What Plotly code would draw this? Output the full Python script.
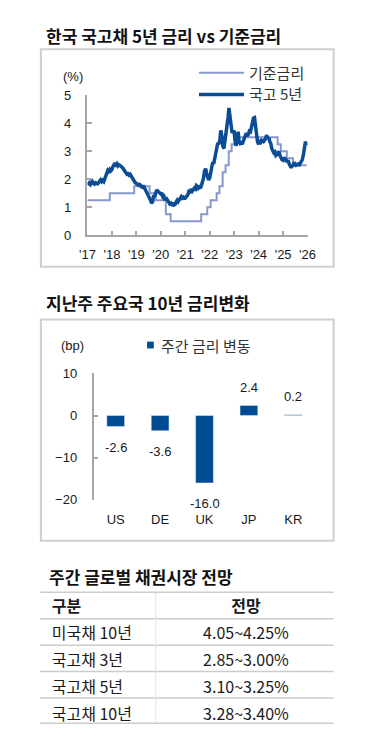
import plotly.graph_objects as go
import pandas as pd

# ---------------- Chart 1 data ----------------
rate_dates = ["2017-01-01", "2017-11-30", "2018-11-30", "2019-07-18", "2019-10-16",
              "2020-03-16", "2020-05-28", "2021-08-26", "2021-11-25", "2022-01-14",
              "2022-04-14", "2022-05-26", "2022-07-13", "2022-08-25", "2022-10-12",
              "2022-11-24", "2023-01-13", "2024-10-11", "2024-11-28", "2025-02-25",
              "2025-05-29", "2025-12-19"]
base_rate = [1.25, 1.50, 1.75, 1.50, 1.25, 0.75, 0.50, 0.75, 1.00, 1.25, 1.50, 1.75,
             2.25, 2.50, 3.00, 3.25, 3.50, 3.25, 3.00, 2.75, 2.50, 2.50]

ktb5_start = "2017-01-01"   # semi-monthly observations
ktb5 = [
    1.80, 1.86, 1.88, 1.82, 1.87, 1.92, 1.85, 1.83, 1.88, 1.86, 1.84, 1.88, 1.95, 1.98, 1.92, 1.96, 1.92, 2.00, 2.12, 2.25, 2.32, 2.28, 2.35, 2.30,
    2.35, 2.45, 2.55, 2.58, 2.52, 2.56, 2.48, 2.52, 2.50, 2.47, 2.45, 2.40, 2.33, 2.28, 2.25, 2.18, 2.20, 2.15, 2.18, 2.12, 2.05, 2.02, 1.95, 1.88,
    1.85, 1.82, 1.80, 1.82, 1.80, 1.74, 1.72, 1.78, 1.70, 1.68, 1.58, 1.50, 1.45, 1.35, 1.25, 1.15, 1.20, 1.42, 1.38, 1.50, 1.62, 1.58, 1.55, 1.50,
    1.48, 1.52, 1.38, 1.40, 1.25, 1.35, 1.30, 1.22, 1.18, 1.12, 1.15, 1.10, 1.12, 1.08, 1.10, 1.18, 1.25, 1.20, 1.28, 1.32, 1.38, 1.33, 1.36, 1.32,
    1.33, 1.38, 1.42, 1.50, 1.62, 1.58, 1.65, 1.58, 1.62, 1.68, 1.65, 1.78, 1.75, 1.68, 1.72, 1.68, 1.80, 1.92, 2.05, 2.30, 2.38, 2.22, 2.05, 1.98,
    2.05, 2.30, 2.45, 2.62, 2.55, 2.75, 2.95, 3.15, 3.30, 3.25, 3.40, 3.75, 3.55, 3.20, 3.10, 3.35, 3.60, 3.80, 4.20, 4.55, 4.25, 3.90, 3.65, 3.72,
    3.70, 3.35, 3.20, 3.45, 3.70, 3.35, 3.28, 3.30, 3.25, 3.35, 3.45, 3.55, 3.65, 3.55, 3.60, 3.72, 3.70, 3.85, 4.00, 4.18, 4.20, 3.85, 3.60, 3.35,
    3.25, 3.35, 3.32, 3.40, 3.38, 3.35, 3.40, 3.55, 3.58, 3.45, 3.50, 3.35, 3.28, 3.10, 3.00, 2.95, 2.98, 2.85, 2.88, 2.95, 3.00, 2.85, 2.72, 2.70,
    2.68, 2.78, 2.72, 2.70, 2.62, 2.68, 2.55, 2.45, 2.42, 2.48, 2.50, 2.60, 2.55, 2.50, 2.52, 2.55, 2.52, 2.60, 2.62, 2.70, 2.90, 3.25, 3.35, 3.20,
]
ktb5_dates = pd.date_range(start=ktb5_start, periods=len(ktb5), freq="SMS")

year_ticks = ["2017-01-01", "2018-01-01", "2019-01-01", "2020-01-01", "2021-01-01",
              "2022-01-01", "2023-01-01", "2024-01-01", "2025-01-01", "2026-01-01"]
year_labels = ["'17", "'18", "'19", "'20", "'21", "'22", "'23", "'24", "'25", "'26"]

# ---------------- Chart 2 data ----------------
countries = ["US", "DE", "UK", "JP", "KR"]
weekly_change = [-2.6, -3.6, -16.0, 2.4, 0.2]
bar_series_name = "주간 금리 변동"

# ---------------- Table data ----------------
table_header = ["구분", "전망"]
table_items = ["미국채 10년", "국고채 3년", "국고채 5년", "국고채 10년"]
table_outlook = ["4.05~4.25%", "2.85~3.00%", "3.10~3.25%", "3.28~3.40%"]

# page is 387x740; the html body keeps an 8px margin, so the figure is 371x724 at (8, 8)
OX, OY = 8, 8
FW, FH = 371, 724
KR = "Noto Sans CJK KR"
AR = "Liberation Sans, Arial"
AXC = "#a6a6a6"
TXT = "#1a1a1a"
BAR_C = "#004b93"


def px_x(p):
    return (p - OX) / FW


def px_y(p):
    return 1 - (p - OY) / FH


fig = go.Figure()

fig.add_trace(go.Scatter(x=rate_dates, y=base_rate, mode="lines", name="기준금리",
                         line=dict(shape="hv", color="#8799cc", width=2),
                         xaxis="x", yaxis="y", legend="legend"))
fig.add_trace(go.Scatter(x=ktb5_dates, y=ktb5, mode="lines", name="국고 5년",
                         line=dict(color="#0b4c97", width=3.5),
                         xaxis="x", yaxis="y", legend="legend3"))
fig.add_trace(go.Bar(x=countries, y=weekly_change, name=bar_series_name,
                     marker=dict(color=BAR_C), width=0.4, showlegend=False,
                     xaxis="x2", yaxis="y2"))

fig.add_trace(go.Table(
    domain=dict(x=[px_x(37), px_x(340)], y=[px_y(732), px_y(597)]),
    columnwidth=[121, 182],
    header=dict(values=table_header, align=["left", "center"],
                height=27, fill_color="rgba(0,0,0,0)", line=dict(color="rgba(0,0,0,0)", width=0),
                font=dict(family=KR, size=16, color=TXT, weight="bold")),
    cells=dict(values=[table_items, table_outlook], align=["left", "center"],
               height=27, fill_color="rgba(0,0,0,0)", line=dict(color="rgba(0,0,0,0)", width=0),
               font=dict(family=KR, size=16, color=TXT)),
))

y0_frac = (0 - (-20)) / (10 - (-20))
zero_pos = px_y(503) + y0_frac * (px_y(374) - px_y(503))
boundaries = [i - 0.5 for i in range(len(countries) + 1)]

axis_common = dict(showgrid=False, zeroline=False, showline=True, linecolor=AXC, linewidth=1.5,
                   ticks="inside", ticklen=5, tickwidth=1.5, tickcolor=AXC,
                   tickfont=dict(family=AR, size=13, color=TXT))

legend_common = dict(xanchor="left", yanchor="top", bgcolor="rgba(0,0,0,0)", itemwidth=45,
                     font=dict(family=KR, size=15, color="#333333"))

fig.update_layout(
    width=FW, height=FH, margin=dict(l=0, r=0, t=0, b=0),
    paper_bgcolor="white", plot_bgcolor="rgba(0,0,0,0)",
    xaxis=dict(domain=[px_x(82.7), px_x(312.7)], anchor="y", type="date",
               range=["2017-01-01", "2026-01-01"], tickvals=year_ticks, ticktext=year_labels,
               ticklabelstandoff=6, **axis_common),
    yaxis=dict(domain=[px_y(233), px_y(90)], anchor="x", range=[0, 5], dtick=1,
               ticklabelstandoff=12, **axis_common),
    xaxis2=dict(domain=[px_x(89), px_x(321)], anchor="y2", type="category",
                range=[-0.5, len(countries) - 0.5], showgrid=False, zeroline=False,
                showline=False, ticks="", ticklabelstandoff=10,
                tickfont=dict(family=AR, size=13, color=TXT)),
    xaxis3=dict(overlaying="x2", anchor="free", position=zero_pos,
                range=[-0.5, len(countries) - 0.5], tickvals=boundaries,
                showticklabels=False, **{k: v for k, v in axis_common.items() if k != "tickfont"}),
    yaxis2=dict(domain=[px_y(503), px_y(374)], anchor="x2", range=[-20, 10], dtick=10,
                ticklabelstandoff=12, **axis_common),
    legend=dict(x=px_x(194), y=px_y(50.5), **legend_common),
    legend3=dict(x=px_x(194), y=px_y(72.5), **legend_common),
    showlegend=True,
)

annotations = [
    dict(text="<b>한국 국고채 5년 금리 vs 기준금리</b>", x=px_x(37), y=px_y(29),
         font=dict(family=KR, size=17, color="#111111")),
    dict(text="<b>지난주 주요국 10년 금리변화</b>", x=px_x(37), y=px_y(302),
         font=dict(family=KR, size=17, color="#111111")),
    dict(text="<b>주간 글로벌 채권시장 전망</b>", x=px_x(40), y=px_y(581),
         font=dict(family=KR, size=17, color="#111111")),
    dict(text=bar_series_name, x=px_x(157), y=px_y(345),
         font=dict(family=KR, size=15, color="#333333")),
]
for a in annotations:
    a.update(xref="paper", yref="paper", xanchor="left", yanchor="middle", showarrow=False)

unit_labels = [dict(text="(%)", x=px_x(67.5), y=px_y(71)), dict(text="(bp)", x=px_x(67.5), y=px_y(345))]
for a in unit_labels:
    a.update(xref="paper", yref="paper", xanchor="center", yanchor="middle", showarrow=False,
             font=dict(family=AR, size=13, color=TXT))
annotations += unit_labels

for c, v in zip(countries, weekly_change):
    annotations.append(dict(text="%.1f" % v, x=c, y=v, xref="x2", yref="y2", showarrow=False,
                            yshift=18 if v >= 0 else -21, xanchor="center", yanchor="middle",
                            font=dict(family=AR, size=13, color=TXT)))
fig.update_layout(annotations=annotations)

shapes = []
for top, bot in [(43, 265), (319, 545)]:
    shapes.append(dict(type="rect", xref="paper", yref="paper", x0=px_x(34), x1=px_x(340),
                       y0=px_y(bot), y1=px_y(top), line=dict(color="#cfcfcf", width=2)))
# legend swatch for the bar chart
shapes.append(dict(type="rect", xref="paper", yref="paper", x0=px_x(145), x1=px_x(152),
                   y0=px_y(348.5), y1=px_y(341.5), line=dict(width=0), fillcolor=BAR_C))
for yy in [597.5, 624.5, 651.5, 678.5, 705.5, 731.2]:
    shapes.append(dict(type="line", xref="paper", yref="paper", x0=px_x(33), x1=px_x(340),
                       y0=px_y(yy), y1=px_y(yy), line=dict(color="#cccccc", width=1.5)))
shapes.append(dict(type="line", xref="paper", yref="paper", x0=px_x(154), x1=px_x(154),
                   y0=px_y(731), y1=px_y(598), line=dict(color="#e3e3e3", width=1)))
fig.update_layout(shapes=shapes)

fig.write_html("out.html", config={"displayModeBar": False})
